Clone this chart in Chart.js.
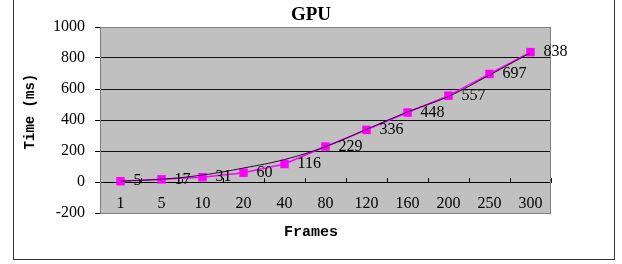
<!DOCTYPE html>
<html>
<head>
<meta charset="utf-8">
<script src="https://cdn.jsdelivr.net/npm/chart.js@4/dist/chart.umd.min.js"></script>
<style>
  body { margin: 0; background: #fff; }
  #wrap { position: relative; width: 622px; height: 264px; overflow: hidden; }
  #frame { position: absolute; left: 13px; top: -3px; width: 602px; height: 263px; box-sizing: border-box; border: 1px solid #333; }
  #gpuChart { position: absolute; left: 0; top: 0; }
</style>
</head>
<body>
<div id="wrap">
  <div id="frame"></div>
  <canvas id="gpuChart" width="622" height="264"></canvas>
</div>
<script>
// Data for the chart
var frames = ["1", "5", "10", "20", "40", "80", "120", "160", "200", "250", "300"];
var timeMs = [5, 17, 31, 60, 116, 229, 336, 448, 557, 697, 838];
// trend line
var trendMs = [6, 18, 45, 90, 145, 228, 340, 452, 552, 690, 834];
var yTicks = [-200, 0, 200, 400, 600, 800, 1000];

var serif = "'Liberation Serif', 'Times New Roman', serif";
var mono = "'Liberation Mono', 'Courier New', monospace";

// gray plot area with a gray border
var plotArea = {
  id: "plotArea",
  beforeDraw: function (chart) {
    var a = chart.chartArea, ctx = chart.ctx;
    ctx.save();
    ctx.fillStyle = "#c0c0c0";
    ctx.fillRect(a.left, a.top, a.right - a.left, a.bottom - a.top);
    ctx.restore();
  },
  beforeDatasetsDraw: function (chart) {
    var a = chart.chartArea, ctx = chart.ctx;
    ctx.save();
    ctx.strokeStyle = "#808080";
    ctx.lineWidth = 1;
    ctx.strokeRect(a.left + 0.5, a.top + 0.5, a.right - a.left - 1, a.bottom - a.top);
    ctx.restore();
  }
};

// value labels to the right of each marker
var valueLabels = {
  id: "valueLabels",
  afterDatasetsDraw: function (chart) {
    var ctx = chart.ctx;
    var meta = chart.getDatasetMeta(0);
    ctx.save();
    ctx.font = "16px " + serif;
    ctx.fillStyle = "#000";
    ctx.textAlign = "left";
    ctx.textBaseline = "middle";
    meta.data.forEach(function (pt, i) {
      ctx.fillText(String(timeMs[i]), pt.x + 13, pt.y);
    });
    ctx.restore();
  }
};

var ctx = document.getElementById("gpuChart");

var myChart = new Chart(ctx, {
  type: "line",
  data: {
    labels: frames,
    datasets: [
      {
        label: "GPU",
        data: timeMs,
        borderColor: "#ff00ff",
        backgroundColor: "#ff00ff",
        borderWidth: 1.5,
        pointStyle: "rect",
        pointRadius: 6,
        pointBorderWidth: 0,
        order: 2,
      },
      {
        label: "Trend",
        data: trendMs,
        borderColor: "#2a0530",
        borderWidth: 1,
        pointRadius: 0,
        tension: 0.4,
        order: 1,
      },
    ],
  },
  options: {
    responsive: false,
    animation: false,
    layout: { padding: 0 },
    scales: {
      x: {
        type: "category",
        position: { y: 0 },
        offset: true,
        grid: { offset: true, drawOnChartArea: false, tickLength: -5, tickColor: "#000" },
        border: { color: "#000" },
        ticks: { color: "#000", padding: 17, maxRotation: 0, autoSkip: false, font: { family: serif, size: 16 } },
      },
      y: {
        min: -200,
        max: 1000,
        afterFit: function (s) { s.width = 100; },
        afterBuildTicks: function (s) { s.ticks = yTicks.map(function (v) { return { value: v }; }); },
        grid: {
          color: function (c) {
            return c.tick && (c.tick.value === -200 || c.tick.value === 1000) ? "rgba(0,0,0,0)" : "#111";
          },
          tickColor: "#000",
          tickLength: 5,
        },
        border: { color: "#000" },
        ticks: {
          color: "#000",
          padding: 10,
          font: { family: serif, size: 16 },
          callback: function (v) { return String(v); },
        },
        title: {
          display: true,
          text: "  Time (ms)",
          color: "#000",
          font: { family: mono, size: 14, weight: "bold" },
          padding: { top: 21.6, bottom: 0 },
        },
      },
      yr: {
        position: "right",
        display: true,
        afterFit: function (s) { s.width = 71; },
        grid: { display: false },
        border: { display: false },
        ticks: { display: false },
      },
    },
    plugins: {
      legend: { display: false },
      tooltip: { enabled: false },
      title: {
        display: true,
        text: "GPU",
        color: "#000",
        font: { family: serif, size: 19, weight: "bold" },
        padding: { top: 4, bottom: 0.2 },
      },
      subtitle: {
        display: true,
        position: "bottom",
        text: "Frames",
        color: "#000",
        font: { family: mono, size: 15, weight: "bold" },
        padding: { top: 10, bottom: 23 },
      },
    },
  },
  plugins: [plotArea, valueLabels],
});
</script>
</body>
</html>
